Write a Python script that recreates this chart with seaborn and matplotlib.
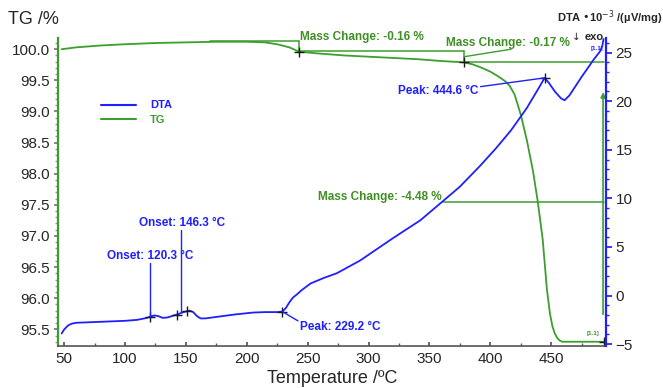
import numpy as np
import matplotlib
matplotlib.use("Agg")
import matplotlib.pyplot as plt
from matplotlib.lines import Line2D
from matplotlib.ticker import MultipleLocator, FormatStrFormatter
import seaborn as sns

# ---------------- data ----------------
temp_tg = [48, 60, 80, 100, 125, 150, 175, 200, 215, 225, 235, 243, 260, 280, 300,
           320, 340, 360, 378, 385, 392, 400, 406, 412, 416, 420, 425, 430, 435, 439,
           443, 446.5, 449, 451, 453, 455, 457, 459, 470, 493]
tg = [100.00, 100.03, 100.06, 100.08, 100.10, 100.11, 100.12, 100.12, 100.11, 100.08,
      100.03, 99.96, 99.93, 99.90, 99.88, 99.86, 99.84, 99.81, 99.79, 99.76, 99.71,
      99.64, 99.57, 99.49, 99.41, 99.27, 98.95, 98.54, 98.05, 97.55, 96.95, 96.14,
      95.75, 95.55, 95.43, 95.36, 95.32, 95.30, 95.30, 95.30]

temp_dta = [48, 50, 53, 56, 60, 70, 80, 90, 100, 110, 118, 121, 124, 127, 131, 135,
            140, 143, 147, 151, 153, 156, 159, 162, 166, 175, 190, 205, 215, 225,
            229.2, 232, 235, 238, 241, 245, 252.5, 263, 274, 293, 320, 342.6, 360,
            375, 392, 405, 417, 430, 440, 444.6, 448, 453, 458, 461, 465, 475, 485,
            490, 492, 493]
dta = [-3.9, -3.5, -3.1, -2.9, -2.8, -2.75, -2.7, -2.65, -2.6, -2.5, -2.3, -2.15,
       -2.05, -2.1, -2.3, -2.25, -2.05, -1.95, -1.75, -1.6, -1.55, -1.7, -2.1, -2.35,
       -2.35, -2.2, -1.95, -1.75, -1.7, -1.7, -1.65, -1.3, -0.7, -0.2, 0.1, 0.55,
       1.25, 1.8, 2.3, 3.6, 5.9, 7.75, 9.6, 11.2, 13.4, 15.2, 17.0, 19.3, 21.4, 22.4,
       21.9, 21.0, 20.3, 20.1, 20.6, 22.5, 24.3, 25.1, 25.7, 26.4]

onset_temps = [120.3, 146.3]
dta_marker_temps = [120.3, 143.0, 151.0]
peak_temps = [229.2, 444.6]
mass_changes = [-0.16, -0.17, -4.48]
step_temps = [243.0, 378.0]
tg_levels = [100.13, 99.96, 99.79, 95.30]

x_ticks = [50, 100, 150, 200, 250, 300, 350, 400, 450]
tg_ticks = [95.5, 96.0, 96.5, 97.0, 97.5, 98.0, 98.5, 99.0, 99.5, 100.0]
dta_ticks = [-5, 0, 5, 10, 15, 20, 25]

# ---------------- style ----------------
BLUE = "#1f1fff"
GREEN = "#3a9f2c"
GTEXT = "#3f8f25"

sns.set_theme(style="white")
plt.rcParams["font.family"] = ["Liberation Sans", "DejaVu Sans"]

fig = plt.figure(figsize=(6.63, 3.88), dpi=100)
ax = fig.add_axes([0.0875, 0.108, 0.8265, 0.794])
ax2 = ax.twinx()

sns.lineplot(x=temp_tg, y=tg, ax=ax, color=GREEN, lw=1.3, legend=False,
             sort=False, estimator=None)
sns.lineplot(x=temp_dta, y=dta, ax=ax2, color=BLUE, lw=1.3, legend=False,
             sort=False, estimator=None)

ax.set_xlim(45, 495)
ax.set_ylim(95.23, 100.18)
ax2.set_ylim(-5.2, 26.5)

ax.set_xticks(x_ticks)
ax.xaxis.set_minor_locator(MultipleLocator(25))
ax.set_yticks(tg_ticks)
ax.yaxis.set_major_formatter(FormatStrFormatter("%.1f"))
ax.yaxis.set_minor_locator(MultipleLocator(0.1))
ax2.set_yticks(dta_ticks)
ax2.yaxis.set_minor_locator(MultipleLocator(1))

for s in ["top", "right"]:
    ax.spines[s].set_visible(False)
for s in ["top", "left", "bottom"]:
    ax2.spines[s].set_visible(False)
ax.spines["left"].set_color(GREEN)
ax.spines["left"].set_linewidth(1.6)
ax.spines["bottom"].set_color("#555555")
ax.spines["bottom"].set_linewidth(1.2)
ax2.spines["right"].set_color(BLUE)
ax2.spines["right"].set_linewidth(1.6)

ax.tick_params(axis="x", which="major", direction="in", length=3, color="#555555",
               labelsize=11, pad=4, bottom=True)
ax.tick_params(axis="x", which="minor", direction="in", length=2, color="#555555",
               bottom=True)
ax.tick_params(axis="y", which="major", direction="out", length=3, color="#777777",
               labelsize=11, pad=3, left=True)
ax.tick_params(axis="y", which="minor", direction="out", length=2, color="#999999",
               left=True)
ax2.tick_params(axis="y", which="major", direction="out", length=4, color=BLUE,
                labelsize=11, pad=3, right=True)
ax2.tick_params(axis="y", which="minor", direction="out", length=2, color=BLUE,
                right=True)
ax.grid(False)
ax2.grid(False)

ax.set_xlabel("Temperature /ºC", fontsize=13, labelpad=3)
ax.set_ylabel("")
ax2.set_ylabel("")
fig.text(0.012, 0.95, "TG /%", fontsize=13, ha="left", va="center")
fig.text(0.999, 0.955, "DTA •10$^{-3}$ /(µV/mg)", fontsize=8, ha="right",
         va="center", fontweight="bold")
ax2.text(471, 26.6, "↓", fontsize=7.5, ha="center", va="center", clip_on=False,
         family=["DejaVu Sans"])
ax2.text(485.5, 26.6, "exo", fontsize=8, ha="center", va="center",
         fontweight="bold", clip_on=False)

# legend
handles = [Line2D([0], [0], color=BLUE, lw=1.5), Line2D([0], [0], color=GREEN, lw=1.5)]
leg = ax2.legend(handles, ["DTA", "TG"], loc="upper left",
                 bbox_to_anchor=(0.06, 0.83), frameon=False, handlelength=3.2,
                 fontsize=8, labelspacing=0.4, handletextpad=1.2)
for t, c in zip(leg.get_texts(), [BLUE, GREEN]):
    t.set_color(c)
    t.set_fontweight("bold")

# ---------------- DTA annotations ----------------
m_y = np.interp(dta_marker_temps, temp_dta, dta)
ax2.plot(dta_marker_temps, m_y, ls="none", marker="+", color="k", ms=7, mew=1)
p_y = np.interp(peak_temps, temp_dta, dta)
ax2.plot(peak_temps, p_y, ls="none", marker="+", color="k", ms=7, mew=1)

# onsets
ax2.plot([onset_temps[0], onset_temps[0]], [3.3, m_y[0]], color=BLUE, lw=1)
ax2.text(onset_temps[0] + 0.7, 4.1, f"Onset: {onset_temps[0]:.1f} °C", color=BLUE,
         fontsize=8.5, fontweight="bold", ha="center", va="center")
ax2.plot([onset_temps[1], onset_temps[1]], [6.7, -1.7], color=BLUE, lw=1)
ax2.text(onset_temps[1] + 0.4, 7.5, f"Onset: {onset_temps[1]:.1f} °C", color=BLUE,
         fontsize=8.5, fontweight="bold", ha="center", va="center")

# peaks
ax2.plot([peak_temps[0], 242], [p_y[0], -2.6], color=BLUE, lw=1)
ax2.text(244, -3.2, f"Peak: {peak_temps[0]:.1f} °C", color=BLUE, fontsize=8.5,
         fontweight="bold", ha="left", va="center")
ax2.plot([392, peak_temps[1]], [21.5, p_y[1]], color=BLUE, lw=1)
ax2.text(390, 21.1, f"Peak: {peak_temps[1]:.1f} °C", color=BLUE, fontsize=8.5,
         fontweight="bold", ha="right", va="center")
ax2.text(487.5, 25.4, "[1.1]", color=BLUE, fontsize=4.5, ha="center", va="center",
         fontweight="bold")

# ---------------- TG annotations ----------------
lw_s = 1.1
ax.plot([170, step_temps[0]], [tg_levels[0], tg_levels[0]], color=GREEN, lw=lw_s)
ax.plot([step_temps[0], step_temps[0]], [tg_levels[0], tg_levels[1]], color=GREEN, lw=lw_s)
ax.plot([step_temps[0], step_temps[1]], [tg_levels[1] + 0.01, tg_levels[1] + 0.01],
        color=GREEN, lw=lw_s)
ax.plot([step_temps[1], step_temps[1]], [tg_levels[1] + 0.01, tg_levels[2]],
        color=GREEN, lw=lw_s)
ax.plot([step_temps[1], 493], [tg_levels[2], tg_levels[2]], color=GREEN, lw=lw_s)
ax.plot(step_temps + [493], [tg_levels[1], tg_levels[2], tg_levels[3]], ls="none",
        marker="+", color="k", ms=7, mew=1)

ax.text(step_temps[0] + 0.5, 100.19, f"Mass Change: {mass_changes[0]:.2f} %",
        color=GTEXT, fontsize=8.5, fontweight="bold", ha="left", va="center",
        clip_on=False)
ax.plot([step_temps[1] + 0.6, 417], [99.88, 100.0], color=GREEN, lw=1)
ax.text(364, 100.10, f"Mass Change: {mass_changes[1]:.2f} %", color=GTEXT,
        fontsize=8.5, fontweight="bold", ha="left", va="center")

mid = (tg_levels[2] + tg_levels[3]) / 2
ax.plot([361, 493], [mid, mid], color=GREEN, lw=lw_s)
ax.text(360, mid + 0.08, f"Mass Change: {mass_changes[2]:.2f} %", color=GTEXT,
        fontsize=8.5, fontweight="bold", ha="right", va="center")
ax.annotate("", xy=(492.6, 99.31), xytext=(492.6, 95.74),
            arrowprops=dict(arrowstyle="-|>", color=GREEN, lw=1.2, mutation_scale=7,
                            shrinkA=0, shrinkB=0))
ax.text(484.5, 95.43, "[1.1]", color=GTEXT, fontsize=4.5, ha="center", va="center",
        fontweight="bold")

fig.savefig("out.png", dpi=100)
